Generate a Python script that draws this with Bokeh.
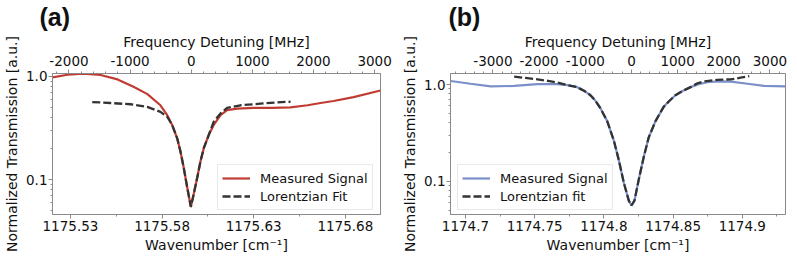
from bokeh.plotting import figure
from bokeh.models import Range1d, LinearAxis, FixedTicker, CustomJSTickFormatter
from bokeh.layouts import row
from bokeh.embed import file_html
from bokeh.resources import INLINE

CM_TO_MHZ = 29979.2458  # 1 cm^-1 in MHz

# ---------------- panel (a) data ----------------
a_center_wn = 1175.5959
a_meas_wn = [1175.5202, 1175.5284, 1175.5371, 1175.5464, 1175.5557, 1175.5644, 1175.5720,
             1175.5791, 1175.5828, 1175.5855, 1175.5882, 1175.5900, 1175.5918, 1175.5937,
             1175.5957, 1175.5973, 1175.5992, 1175.6010, 1175.6028, 1175.6055, 1175.6082,
             1175.6119, 1175.6155, 1175.6210, 1175.6300, 1175.6400, 1175.6501, 1175.6594,
             1175.6665, 1175.6736, 1175.6845, 1175.6992]
a_meas = [0.978, 1.038, 1.063, 1.033, 0.936, 0.794, 0.674,
          0.526, 0.422, 0.339, 0.253, 0.189, 0.131, 0.0845,
          0.0545, 0.0731, 0.105, 0.152, 0.203, 0.272, 0.339,
          0.422, 0.471, 0.488, 0.496, 0.497, 0.501, 0.526,
          0.553, 0.578, 0.631, 0.731]
a_fit_wn = [1175.5419, 1175.5518, 1175.5628, 1175.5719, 1175.5791, 1175.5828, 1175.5855,
            1175.5882, 1175.5900, 1175.5918, 1175.5937, 1175.5957, 1175.5973, 1175.5992,
            1175.6010, 1175.6028, 1175.6055, 1175.6082, 1175.6119, 1175.6155, 1175.6228,
            1175.6337, 1175.6419, 1175.6501]
a_fit = [0.565, 0.553, 0.538, 0.507, 0.454, 0.407, 0.339,
         0.253, 0.189, 0.131, 0.0845, 0.0545, 0.0731, 0.105,
         0.152, 0.203, 0.272, 0.365, 0.438, 0.496, 0.526,
         0.545, 0.560, 0.569]
a_bottom_ticks = [1175.53, 1175.58, 1175.63, 1175.68]
a_bottom_minor = [1175.505, 1175.555, 1175.605, 1175.655, 1175.705]
a_top_ticks = [-2000, -1000, 0, 1000, 2000, 3000]
a_labels = ["Measured Signal", "Lorentzian Fit"]

# ---------------- panel (b) data ----------------
b_center_wn = 1174.8199
b_meas_wn = [1174.6894, 1174.7036, 1174.7183, 1174.7352, 1174.7520, 1174.7665, 1174.7737,
             1174.7807, 1174.7860, 1174.7903, 1174.7939, 1174.7975, 1174.8024, 1174.8072,
             1174.8108, 1174.8144, 1174.8180, 1174.8199, 1174.8221, 1174.8252, 1174.8288,
             1174.8324, 1174.8373, 1174.8433, 1174.8474, 1174.8517, 1174.8568, 1174.8626,
             1174.8684, 1174.8746, 1174.8828, 1174.8917, 1174.9038, 1174.9158, 1174.9310]
b_meas = [1.087, 1.019, 0.955, 0.968, 1.007, 1.007, 0.984,
          0.939, 0.856, 0.775, 0.679, 0.568, 0.418, 0.263,
          0.165, 0.0964, 0.0629, 0.0560, 0.0629, 0.104, 0.178,
          0.284, 0.418, 0.591, 0.679, 0.775, 0.856, 0.939,
          1.007, 1.055, 1.079, 1.072, 1.019, 0.968, 0.955]
b_fit_wn = [1174.7352, 1174.7434, 1174.7520, 1174.7607, 1174.7665, 1174.7723, 1174.7807,
            1174.7860, 1174.7903, 1174.7939, 1174.7975, 1174.8024, 1174.8072, 1174.8108,
            1174.8144, 1174.8180, 1174.8199, 1174.8221, 1174.8252, 1174.8288, 1174.8324,
            1174.8373, 1174.8433, 1174.8474, 1174.8517, 1174.8568, 1174.8626, 1174.8676,
            1174.8729, 1174.8816, 1174.8917, 1174.8987, 1174.9050]
b_fit = [1.204, 1.170, 1.131, 1.084, 1.047, 0.995, 0.939,
         0.856, 0.775, 0.679, 0.568, 0.418, 0.263, 0.165,
         0.0964, 0.0629, 0.0560, 0.0629, 0.104, 0.178, 0.284,
         0.418, 0.591, 0.679, 0.775, 0.856, 0.939, 1.030,
         1.079, 1.117, 1.131, 1.176, 1.220]
b_bottom_ticks = [1174.7, 1174.75, 1174.8, 1174.85, 1174.9]
b_bottom_minor = [1174.675, 1174.725, 1174.775, 1174.825, 1174.875, 1174.925]
b_top_ticks = [-3000, -2000, -1000, 0, 1000, 2000, 3000]
b_labels = ["Measured Signal", "Lorentzian fit"]

y_ticks = [0.1, 1.0]
y_minor = [0.04, 0.05, 0.06, 0.07, 0.08, 0.09, 0.2, 0.3, 0.4, 0.5, 0.6, 0.7, 0.8, 0.9, 2.0]

FONT = "DejaVu Sans"
GRAY = "#8a8a8a"
HEIGHT = 262


def style_axis(ax):
    ax.axis_line_color = GRAY
    ax.major_tick_line_color = GRAY
    ax.minor_tick_line_color = GRAY
    ax.major_tick_out = 4
    ax.major_tick_in = 0
    ax.minor_tick_out = 2
    ax.minor_tick_in = 0
    ax.major_label_text_font = FONT
    ax.major_label_text_font_size = "13.5px"
    ax.major_label_text_color = "#111111"
    ax.major_label_standoff = 2
    ax.axis_label_text_font = FONT
    ax.axis_label_text_font_size = "14px"
    ax.axis_label_text_font_style = "normal"
    ax.axis_label_text_color = "#111111"
    ax.axis_label_standoff = 3


def make_panel(width, borders, xr, yr, center_wn, meas_wn, meas, fit_wn, fit,
               bottom_ticks, bottom_minor, bottom_fmt, top_ticks, color, labels,
               legend_xy, tag, tag_dx):
    bl, br, bt, bb = borders
    p = figure(width=width, height=HEIGHT, x_range=Range1d(*xr), y_range=Range1d(*yr),
               y_axis_type="log", output_backend="svg", toolbar_location=None,
               min_border_left=bl, min_border_right=br, min_border_top=bt,
               min_border_bottom=bb, title=tag)
    p.grid.visible = False
    p.outline_line_color = GRAY
    p.outline_line_width = 1
    p.background_fill_color = "white"
    p.border_fill_color = "white"

    p.title.align = "left"
    p.title.offset = tag_dx
    p.title.standoff = 0
    p.title.text_font = "Liberation Sans"
    p.title.text_font_size = "25px"
    p.title.text_font_style = "bold"
    p.title.text_color = "#111111"

    xa = p.below[0]
    xa.axis_label = "Wavenumber [cm\u207b\u00b9]"
    xa.ticker = FixedTicker(ticks=bottom_ticks, minor_ticks=bottom_minor)
    xa.formatter = CustomJSTickFormatter(code=bottom_fmt)
    style_axis(xa)

    ya = p.left[0]
    ya.axis_label = "Normalized Transmission [a.u.]"
    ya.ticker = FixedTicker(ticks=y_ticks, minor_ticks=y_minor)
    ya.formatter = CustomJSTickFormatter(code="return tick.toFixed(1)")
    style_axis(ya)
    ya.major_label_standoff = 1

    p.extra_x_ranges = {"mhz": Range1d((xr[0] - center_wn) * CM_TO_MHZ,
                                       (xr[1] - center_wn) * CM_TO_MHZ)}
    top = LinearAxis(x_range_name="mhz", axis_label="Frequency Detuning [MHz]")
    top.ticker = FixedTicker(ticks=top_ticks,
                             minor_ticks=[t + d for t in ([top_ticks[0] - 1000] + top_ticks)
                                          for d in (200, 400, 600, 800)])
    top.formatter = CustomJSTickFormatter(code="return tick.toFixed(0)")
    style_axis(top)
    top.major_label_standoff = 4
    top.axis_label_standoff = 3
    p.add_layout(top, "above")

    p.line(meas_wn, meas, line_color=color, line_width=2.2, legend_label=labels[0])
    p.line(fit_wn, fit, line_color="#333333", line_width=2.3, line_dash="8 3",
           legend_label=labels[1])

    lg = p.legend[0]
    lg.location = legend_xy
    lg.label_text_font = FONT
    lg.label_text_font_size = "13px"
    lg.label_text_color = "#111111"
    lg.glyph_width = 28
    lg.glyph_height = 18
    lg.label_height = 18
    lg.label_standoff = 10
    lg.padding = 4
    lg.spacing = 0
    lg.margin = 0
    lg.border_line_color = "#d4d4d4"
    lg.border_line_width = 1
    lg.background_fill_alpha = 0.85
    return p


pa = make_panel(397, (52, 17, 71, 48), (1175.5202, 1175.6992), (0.046, 1.068),
                a_center_wn, a_meas_wn, a_meas, a_fit_wn, a_fit,
                a_bottom_ticks, a_bottom_minor, "return tick.toFixed(2)",
                a_top_ticks, "#C03C32", a_labels, (165, 4), "(a)", -13)
pb = make_panel(400, (53, 12, 69, 48), (1174.6892, 1174.9312), (0.0452, 1.30),
                b_center_wn, b_meas_wn, b_meas, b_fit_wn, b_fit,
                b_bottom_ticks, b_bottom_minor,
                "return String(parseFloat(tick.toFixed(2)))",
                b_top_ticks, "#7B8FC9", b_labels, (7, 4), "(b)", -2)

layout = row(pa, pb, spacing=0)
open("out.html", "w").write(file_html(layout, INLINE))
